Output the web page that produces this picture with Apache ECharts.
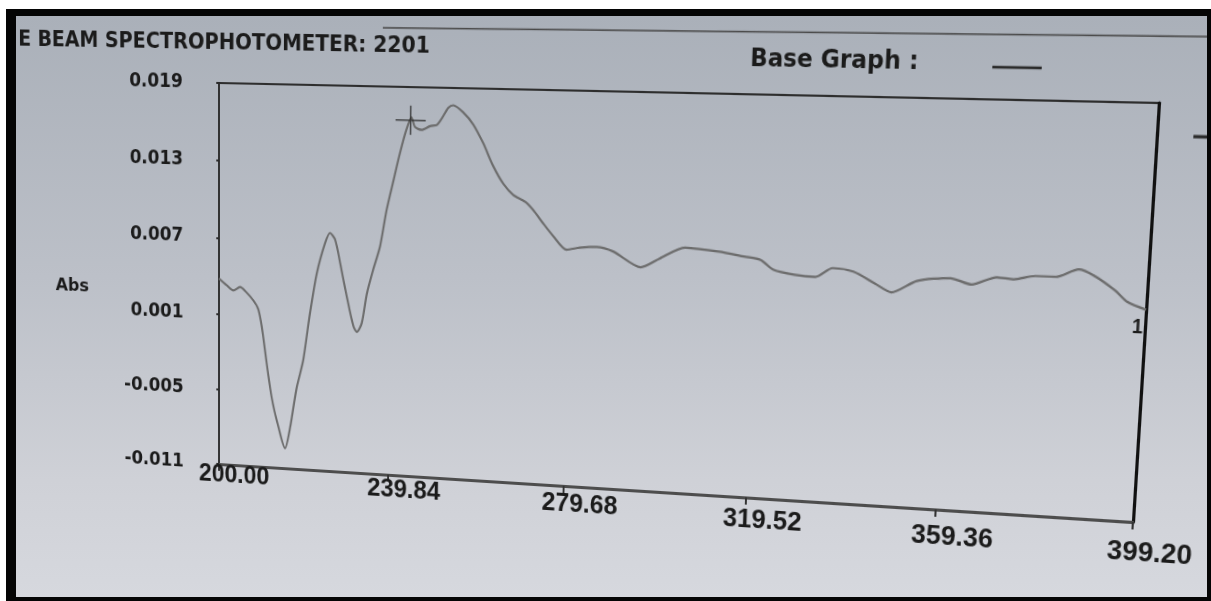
<!DOCTYPE html>
<html>
<head>
<meta charset="utf-8">
<script src="https://cdn.jsdelivr.net/npm/echarts@6/dist/echarts.min.js"></script>
<style>
  html, body { margin: 0; padding: 0; width: 1211px; height: 601px; overflow: hidden; background: #ffffff; }
  #frame { position: absolute; left: 6px; top: 9px; width: 1205px; height: 592px; background: #050505; }
  #screen { position: absolute; left: 16px; top: 16px; width: 1191px; height: 581px; overflow: hidden;
            background: linear-gradient(to bottom, #aab0b9 0%, #bcc0c8 45%, #cfd1d7 80%, #d6d8de 100%); }
  #chart { position: absolute; left: -56px; top: -16px; width: 1291px; height: 601px; transform-origin: 0 0; }
</style>
</head>
<body>
<div id="frame"></div>
<div id="screen"><div id="chart"></div></div>
<script>
// ---- data ----
const wavelength = [200, 201.8, 203.4, 205.0, 206.2, 208.1, 209.3, 210.1, 211.3, 212.5,
  214.1, 215.7, 216.9, 218.4, 219.9, 221.4, 222.9, 224.8, 225.9, 227.1,
  228.3, 229.9, 231.5, 232.3, 233.4, 234.5, 235.9, 237.4, 238.8, 240.3,
  241.7, 243.1, 244.2, 245.0, 246.5, 248.4, 249.9, 251.0, 252.4, 253.5,
  255.7, 258.0, 260.3, 262.6, 264.9, 267.1, 269.8, 271.6, 273.9, 276.1,
  279.1, 282.0, 285.7, 289.3, 295.3, 299.3, 304.7, 311.9, 317.3, 320.8,
  323.6, 328.0, 332.4, 335.9, 340.2, 344.7, 348.2, 353.3, 360.1, 364.4,
  369.4, 372.8, 377.0, 381.1, 385.6, 388.6, 392.9, 395.5, 399.2];
const absorbance = [0.0038, 0.0033, 0.0029, 0.0032, 0.0029, 0.0022, 0.0015, 0.0002, -0.0027, -0.0054,
  -0.0077, -0.0094, -0.0077, -0.0045, -0.0023, 0.0014, 0.0045, 0.0069, 0.0077, 0.0072,
  0.0054, 0.0028, 0.0005, 0.0001, 0.0008, 0.0031, 0.0050, 0.0068, 0.0096, 0.0119,
  0.0140, 0.0158, 0.0167, 0.0160, 0.0158, 0.0161, 0.0162, 0.0167, 0.0175, 0.0177,
  0.0172, 0.0163, 0.0149, 0.0132, 0.0119, 0.0111, 0.0106, 0.0100, 0.0090, 0.0081,
  0.0071, 0.0073, 0.0074, 0.0071, 0.0060, 0.0067, 0.0076, 0.0074, 0.0071, 0.0069,
  0.0062, 0.0059, 0.0058, 0.0065, 0.0063, 0.0055, 0.0049, 0.0058, 0.0061, 0.0057,
  0.0063, 0.0062, 0.0065, 0.0065, 0.0071, 0.0067, 0.0057, 0.0049, 0.0044];
const xTicks = [200.00, 239.84, 279.68, 319.52, 359.36, 399.20];
const yTicks = [-0.011, -0.005, 0.001, 0.007, 0.013, 0.019];
const cursorPoint = [[244.0, 0.0165]];
const curveName = '1';
const titleText = 'E BEAM SPECTROPHOTOMETER: 2201';
const baseGraphText = 'Base Graph :';
const yAxisName = 'Abs';

// ---- perspective of the photographed screen (flat -> photo), element-local coords ----
const OX = 40;
function solve(A, b) {
  const n = b.length;
  for (let i = 0; i < n; i++) A[i] = A[i].concat([b[i]]);
  for (let c = 0; c < n; c++) {
    let p = c;
    for (let r = c + 1; r < n; r++) if (Math.abs(A[r][c]) > Math.abs(A[p][c])) p = r;
    [A[c], A[p]] = [A[p], A[c]];
    for (let r = 0; r < n; r++) {
      if (r === c) continue;
      const f = A[r][c] / A[c][c];
      for (let k = c; k <= n; k++) A[r][k] -= f * A[c][k];
    }
  }
  return A.map((row, i) => row[n] / row[i]);
}
function homography(src, dst) {
  const A = [], b = [];
  for (let i = 0; i < 4; i++) {
    const [x, y] = src[i], [X, Y] = dst[i];
    A.push([x, y, 1, 0, 0, 0, -X * x, -X * y]); b.push(X);
    A.push([0, 0, 0, x, y, 1, -Y * x, -Y * y]); b.push(Y);
  }
  const h = solve(A, b);
  return 'matrix3d(' + [h[0], h[3], 0, h[6], h[1], h[4], 0, h[7], 0, 0, 1, 0, h[2], h[5], 0, 1].join(',') + ')';
}
const flatQuad = [[219, 83], [1159, 83], [1159, 464], [219, 464]].map(p => [p[0] + OX, p[1]]);
const photoQuad = [[219, 83], [1159, 103], [1133, 522], [219, 464]].map(p => [p[0] + OX, p[1]]);
const el = document.getElementById('chart');
el.style.transform = homography(flatQuad, photoQuad);

const chart = echarts.init(el, null, { renderer: 'canvas' });
const ink = '#1b1b1b';
const boldFont = 'DejaVu Sans';
const rich = {};
xTicks.forEach((t, i) => {
  rich['r' + i] = { fontSize: 26, fontWeight: 'bold', fontFamily: 'Liberation Sans', color: ink, lineHeight: 22 + 7.2 * i };
});

chart.setOption({
  animation: false,
  backgroundColor: 'transparent',
  grid: { left: 219 + OX, top: 83, width: 940, height: 381, show: true, borderColor: '#2e2e2e', borderWidth: 2, backgroundColor: 'transparent' },
  xAxis: {
    type: 'value', min: xTicks[0], max: xTicks[xTicks.length - 1],
    axisLine: { show: true, onZero: false, lineStyle: { color: '#4d4d4d', width: 3 } },
    axisTick: { show: true, length: 7, lineStyle: { color: '#333', width: 2 }, customValues: xTicks },
    splitLine: { show: false },
    axisLabel: {
      customValues: xTicks, margin: 0, padding: [0, 0, 0, 34],
      formatter: (v) => {
        const i = xTicks.findIndex(t => Math.abs(t - v) < 1e-6);
        return '{r' + i + '|' + v.toFixed(2) + '}';
      },
      rich: rich
    }
  },
  yAxis: [{
    type: 'value', min: yTicks[0], max: yTicks[yTicks.length - 1],
    axisLine: { show: true, onZero: false, lineStyle: { color: '#2a2a2a', width: 2 } },
    axisTick: { show: true, length: 3, lineStyle: { color: '#2a2a2a', width: 2 }, customValues: yTicks },
    splitLine: { show: false },
    axisLabel: { customValues: yTicks, margin: 40, formatter: v => v.toFixed(3),
      fontFamily: boldFont, fontWeight: 'bold', fontSize: 19, color: ink }
  }, {
    type: 'value', position: 'right', min: yTicks[0], max: yTicks[yTicks.length - 1],
    axisLine: { show: true, lineStyle: { color: '#111', width: 3 } },
    axisTick: { show: false }, axisLabel: { show: false }, splitLine: { show: false }
  }],
  graphic: [
    { type: 'text', left: -7 + OX, top: 33, style: { text: titleText, fill: ink, font: 'bold 21.5px "DejaVu Sans"' } },
    { type: 'text', x: 893, y: 51, style: { text: baseGraphText, fill: ink, font: 'bold 22.5px "DejaVu Sans"', align: 'center', verticalAlign: 'middle' } },
    { type: 'line', shape: { x1: 1004 + OX, y1: 54, x2: 1050 + OX, y2: 54 }, style: { stroke: '#2b2b2b', lineWidth: 2.5 } },
    { type: 'line', shape: { x1: 396 + OX, y1: 27, x2: 1200 + OX, y2: 24 }, style: { stroke: '#4a4a4a', lineWidth: 1.5 } },
    { type: 'line', shape: { x1: 1192 + OX, y1: 112, x2: 1215 + OX, y2: 112 }, style: { stroke: '#2b2b2b', lineWidth: 3 } },
    { type: 'text', x: 52 + OX, y: 290, style: { text: yAxisName, fill: ink, font: 'bold 18.5px "DejaVu Sans"', align: 'center', verticalAlign: 'middle' } }
  ],
  series: [{
    type: 'line', name: curveName,
    data: wavelength.map((w, i) => [w, absorbance[i]]),
    showSymbol: false, smooth: 0.25,
    lineStyle: { color: '#6c6c6c', width: 2.2 },
    endLabel: { show: true, formatter: curveName, align: 'center', verticalAlign: 'middle', distance: 0, offset: [-7, 17],
      fontFamily: 'Liberation Sans', fontWeight: 'bold', fontSize: 18, color: ink }
  }, {
    type: 'scatter', name: 'cursor', data: cursorPoint, z: 5,
    symbol: 'path://M0,14H32M16,0V28', symbolSize: [32, 28],
    itemStyle: { color: 'transparent', borderColor: '#2a2a2a', borderWidth: 1.5 }
  }]
});
</script>
</body>
</html>
